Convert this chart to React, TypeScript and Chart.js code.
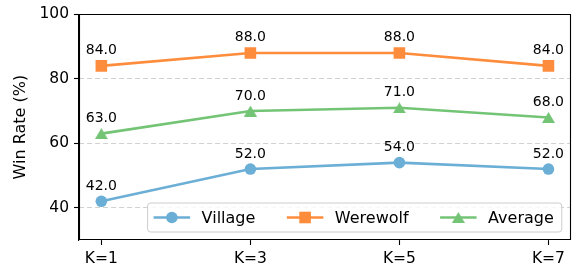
import { useEffect, useRef } from 'react';
import { Chart, registerables } from 'chart.js';

Chart.register(...registerables);

const categories = ['K=1', 'K=3', 'K=5', 'K=7'];
const village = [42, 52, 54, 52];
const werewolf = [84, 88, 88, 84];
const average = [63, 70, 71, 68];
const yTicks = [40, 60, 80, 100];
const seriesNames = ['Village', 'Werewolf', 'Average'];

const FONT = 'DejaVu Sans';
const BLUE = '#6baed6';
const ORANGE = '#fd8d3c';
const GREEN = '#74c476';

function makeTriangle(color: string, w: number, h: number) {
  const c = document.createElement('canvas');
  c.width = w;
  c.height = h;
  const ctx = c.getContext('2d')!;
  ctx.fillStyle = color;
  ctx.beginPath();
  ctx.moveTo(w / 2, 0);
  ctx.lineTo(w, h);
  ctx.lineTo(0, h);
  ctx.closePath();
  ctx.fill();
  return c;
}

export default function App() {
  const ref = useRef<HTMLCanvasElement | null>(null);

  useEffect(() => {
    document.body.style.margin = '0';
    const canvas = ref.current!;
    const tri = makeTriangle(GREEN, 13, 11);

    const labelPlugin = {
      id: 'valueLabels',
      afterDatasetsDraw(chart: any) {
        const ctx = chart.ctx;
        ctx.save();
        ctx.font = `14px "${FONT}"`;
        ctx.fillStyle = '#000';
        ctx.textAlign = 'center';
        ctx.textBaseline = 'alphabetic';
        chart.data.datasets.forEach((ds: any, di: number) => {
          const meta = chart.getDatasetMeta(di);
          meta.data.forEach((el: any, i: number) => {
            const v = ds.data[i].y;
            ctx.fillText(v.toFixed(1), el.x, el.y - 11.5);
          });
        });
        ctx.restore();
      },
    };

    const framePlugin = {
      id: 'frame',
      afterDraw(chart: any) {
        const { ctx, chartArea: a } = chart;
        ctx.save();
        ctx.setLineDash([]);
        ctx.globalAlpha = 1;
        ctx.globalCompositeOperation = 'source-over';
        ctx.strokeStyle = '#000000';
        ctx.lineWidth = 1.1;
        const L = Math.round(a.left) + 0.5;
        const T = Math.round(a.top) + 0.5;
        const R = Math.round(a.right) - 0.5;
        const B = Math.round(a.bottom) - 0.5;
        ctx.beginPath();
        ctx.moveTo(L, T);
        ctx.lineTo(R, T);
        ctx.lineTo(R, B);
        ctx.lineTo(L, B);
        ctx.closePath();
        ctx.stroke();

        // legend
        const colors = [BLUE, ORANGE, GREEN];
        ctx.font = `16px "${FONT}"`;
        const pad = 6;
        const handle = 36.5;
        const textPad = 11.5;
        const colSpace = 31.5;
        const widths = seriesNames.map((n) => ctx.measureText(n).width);
        const total = pad * 2 + widths.reduce((s, w) => s + w + handle + textPad, 0) + colSpace * (seriesNames.length - 1) + 2;
        const boxR = a.right - 9;
        const boxB = a.bottom - 8;
        const boxH = 29;
        const boxL = boxR - total;
        const boxT = boxB - boxH;
        ctx.beginPath();
        const r = 3;
        ctx.moveTo(boxL + r, boxT);
        ctx.arcTo(boxR, boxT, boxR, boxB, r);
        ctx.arcTo(boxR, boxB, boxL, boxB, r);
        ctx.arcTo(boxL, boxB, boxL, boxT, r);
        ctx.arcTo(boxL, boxT, boxR, boxT, r);
        ctx.closePath();
        ctx.fillStyle = 'rgba(255,255,255,0.8)';
        ctx.fill();
        ctx.strokeStyle = '#cccccc';
        ctx.lineWidth = 1;
        ctx.stroke();

        let x = boxL + pad;
        const cy = boxT + boxH / 2;
        seriesNames.forEach((name, i) => {
          ctx.strokeStyle = colors[i];
          ctx.lineWidth = 2.6;
          ctx.beginPath();
          ctx.moveTo(x, cy);
          ctx.lineTo(x + handle, cy);
          ctx.stroke();
          const mx = x + handle / 2;
          ctx.fillStyle = colors[i];
          if (i === 0) {
            ctx.beginPath();
            ctx.arc(mx, cy, 5.8, 0, Math.PI * 2);
            ctx.fill();
          } else if (i === 1) {
            ctx.fillRect(mx - 5.8, cy - 5.8, 11.6, 11.6);
          } else {
            ctx.drawImage(tri, mx - tri.width / 2, cy - tri.height / 2);
          }
          ctx.fillStyle = '#000';
          ctx.textAlign = 'left';
          ctx.textBaseline = 'middle';
          ctx.fillText(name, x + handle + textPad, cy + 1);
          x += handle + textPad + widths[i] + colSpace;
        });
        ctx.restore();
      },
    };

    const toPts = (arr: number[]) => arr.map((v, i) => ({ x: i, y: v }));

    const chart = new Chart(canvas, {
      type: 'line',
      data: {
        datasets: [
          {
            label: seriesNames[0],
            data: toPts(village),
            borderColor: BLUE,
            backgroundColor: BLUE,
            borderWidth: 2.6,
            pointStyle: 'circle',
            pointRadius: 5.8,
            pointBorderWidth: 0,
            pointBackgroundColor: BLUE,
          },
          {
            label: seriesNames[1],
            data: toPts(werewolf),
            borderColor: ORANGE,
            backgroundColor: ORANGE,
            borderWidth: 2.6,
            pointStyle: 'rect',
            pointRadius: 8.2,
            pointBorderWidth: 0,
            pointBackgroundColor: ORANGE,
          },
          {
            label: seriesNames[2],
            data: toPts(average),
            borderColor: GREEN,
            backgroundColor: GREEN,
            borderWidth: 2.6,
            pointStyle: tri as any,
            pointRadius: 7,
            pointBorderWidth: 0,
            pointBackgroundColor: GREEN,
          },
        ],
      },
      options: {
        animation: false,
        responsive: false,
        maintainAspectRatio: false,
        layout: { padding: { top: 13, right: 7, left: 0, bottom: 0 } },
        plugins: {
          legend: { display: false },
          tooltip: { enabled: false },
        },
        scales: {
          x: {
            type: 'linear',
            min: -0.15,
            max: 3.15,
            afterBuildTicks: (s: any) => {
              s.ticks = categories.map((_, i) => ({ value: i }));
            },
            afterFit: (s: any) => {
              s.height = 29;
            },
            ticks: {
              callback: (v: any) => categories[Math.round(Number(v))] ?? '',
              color: '#000',
              font: { family: FONT, size: 15.5 },
              padding: 5,
              maxRotation: 0,
              autoSkip: false,
            },
            grid: { drawOnChartArea: false, drawTicks: true, tickLength: 5, tickColor: '#000', tickWidth: 1.1 },
            border: { display: true, color: '#000', width: 1.1 },
          },
          y: {
            type: 'linear',
            min: 30,
            max: 100,
            afterBuildTicks: (s: any) => {
              s.ticks = yTicks.map((v) => ({ value: v }));
            },
            afterFit: (s: any) => {
              s.width = 79;
            },
            ticks: {
              color: '#000',
              font: { family: FONT, size: 15.5 },
              padding: 5,
            },
            grid: {
              color: 'rgba(190,190,190,0.7)',
              lineWidth: 1,
              drawTicks: true,
              tickLength: 5,
              tickColor: '#000',
              tickWidth: 1.1,
            },
            border: { display: true, color: '#000', width: 1.1, dash: [5, 3] },
            title: {
              display: true,
              text: 'Win Rate (%)',
              color: '#000',
              font: { family: FONT, size: 16 },
              padding: { top: 11.5, bottom: 0 },
            },
          },
        },
      },
      plugins: [labelPlugin, framePlugin],
    });

    return () => chart.destroy();
  }, []);

  return (
    <div style={{ width: 579, height: 269 }}>
      <canvas ref={ref} width={579} height={269} style={{ display: 'block' }} />
    </div>
  );
}
